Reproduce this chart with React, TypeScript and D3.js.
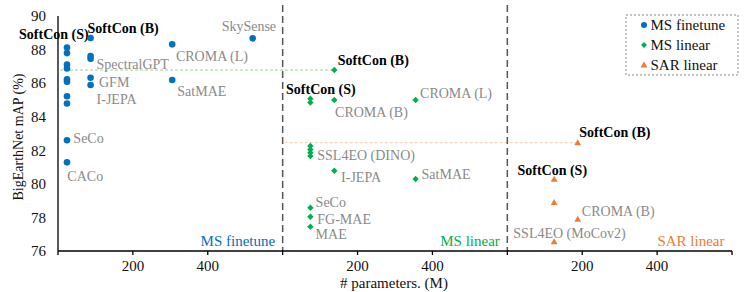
import React from "react";
import * as d3 from "d3";

// ---- data (params in M, within each panel; values = BigEarthNet mAP %) ----
const panels = ["MS finetune", "MS linear", "SAR linear"];

const msFinetuneParams = [24, 24, 24, 24, 24, 24, 24, 24, 24, 24, 87, 87, 87, 87, 87, 305, 305, 520];
const msFinetuneValues = [88.12, 87.79, 87.11, 86.87, 86.23, 86.09, 85.22, 84.79, 82.6, 81.28, 88.69, 87.62, 87.46, 86.32, 85.89, 88.31, 86.19, 88.67];

const msLinearParams = [138, 74, 74, 138, 355, 74, 74, 74, 74, 138, 355, 74, 74, 74];
const msLinearValues = [86.78, 85.07, 84.85, 85.0, 85.0, 82.26, 82.05, 81.86, 81.66, 80.78, 80.29, 78.58, 78.04, 77.45];

const sarLinearParams = [188, 125, 125, 188, 125];
const sarLinearValues = [82.45, 80.27, 78.88, 77.89, 76.55];

const yTicks = [76, 78, 80, 82, 84, 86, 88, 90];
const xTickLabels = [200, 400];

// annotations: panel index, text, left x (M), centre y (value), bold
const annotations: [number, string, number, number, boolean][] = [
  [0, "SoftCon (S)", -104, 88.91, true],
  [0, "SoftCon (B)", 79, 89.3, true],
  [0, "SkySense", 437, 89.4, false],
  [0, "CROMA (L)", 315, 87.63, false],
  [0, "SpectralGPT", 103, 87.12, false],
  [0, "GFM", 109.5, 86.09, false],
  [0, "SatMAE", 318.6, 85.55, false],
  [0, "I-JEPA", 103, 85.04, false],
  [0, "SeCo", 41, 82.71, false],
  [0, "CACo", 25, 80.47, false],
  [1, "SoftCon (B)", 147, 87.38, true],
  [1, "SoftCon (S)", 9, 85.63, true],
  [1, "CROMA (B)", 140, 84.26, false],
  [1, "CROMA (L)", 367, 85.43, false],
  [1, "SSL4EO (DINO)", 92.5, 81.72, false],
  [1, "I-JEPA", 156, 80.43, false],
  [1, "SatMAE", 371, 80.59, false],
  [1, "SeCo", 88, 78.9, false],
  [1, "FG-MAE", 92.5, 77.91, false],
  [1, "MAE", 88, 77.0, false],
  [2, "SoftCon (B)", 192, 83.07, true],
  [2, "SoftCon (S)", 27, 80.83, true],
  [2, "CROMA (B)", 199, 78.38, false],
  [2, "SSL4EO (MoCov2)", 16, 77.05, false],
];

const COLORS = ["#0070C0", "#00B050", "#ED7D31"];
const FONT = "'Liberation Serif', 'Times New Roman', serif";
const GRAY = "#8a8a8a";

const W = 748;
const H = 292;
const PANEL = 600;

export default function App() {
  const x = d3.scaleLinear().domain([0, PANEL * 3]).range([58, 732]);
  const y = d3.scaleLinear().domain([76, 90]).range([251, 16]);
  const px = (panel: number, m: number) => x(panel * PANEL + m);

  const diamond = (cx: number, cy: number, r = 3.2) =>
    `M${cx},${cy - r}L${cx + r},${cy}L${cx},${cy + r}L${cx - r},${cy}Z`;
  const triangle = (cx: number, cy: number) =>
    `M${cx},${cy - 3.6}L${cx + 3.4},${cy + 2.4}L${cx - 3.4},${cy + 2.4}Z`;

  const allTicks = d3.range(0, PANEL * 3 + 1, 200);

  return (
    <svg width={W} height={H} style={{ position: "absolute", left: 0, top: 0 }} fontFamily={FONT}>
      <rect width={W} height={H} fill="#fff" />

      {/* reference dotted lines */}
      <line x1={x(0) + 2} x2={px(1, msLinearParams[0])} y1={y(msLinearValues[0])} y2={y(msLinearValues[0])}
        stroke="#a9d18e" strokeWidth={1} strokeDasharray="3,2" />
      <line x1={x(PANEL) + 2} x2={px(2, sarLinearParams[0])} y1={y(sarLinearValues[0])} y2={y(sarLinearValues[0])}
        stroke="#f8cbad" strokeWidth={1} strokeDasharray="3,2" />

      {/* panel separators */}
      {[1, 2].map((p) => (
        <line key={p} x1={x(p * PANEL)} x2={x(p * PANEL)} y1={5} y2={y(76)}
          stroke="#555" strokeWidth={1.5} strokeDasharray="7,4" />
      ))}

      {/* axes */}
      <line x1={x(0)} x2={x(0)} y1={y(90)} y2={y(76)} stroke="#000" strokeWidth={1.3} />
      <line x1={x(0)} x2={x(PANEL * 3)} y1={y(76)} y2={y(76)} stroke="#000" strokeWidth={1.3} />
      {allTicks.map((t) => (
        <line key={t} x1={x(t)} x2={x(t)} y1={y(76)} y2={y(76) + 4} stroke="#000" strokeWidth={1.3} />
      ))}
      {yTicks.map((t) => (
        <text key={t} x={46} y={y(t)} dy="0.35em" textAnchor="end" fontSize={15} fill="#111">{t}</text>
      ))}
      {[0, 1, 2].map((p) =>
        xTickLabels.map((t) => (
          <text key={`${p}-${t}`} x={px(p, t)} y={266} dy="0.35em" textAnchor="middle" fontSize={15} fill="#111">{t}</text>
        ))
      )}
      <text transform={`translate(18,${137}) rotate(-90)`} textAnchor="middle" dy="0.35em" fontSize={14} fill="#111">
        BigEarthNet mAP (%)
      </text>
      <text x={394} y={282.7} dy="0.35em" textAnchor="middle" fontSize={15} fill="#111"># parameters. (M)</text>

      {/* panel names */}
      {panels.map((name, p) => (
        <text key={name} x={px(p, 580)} y={y(76.63)} dy="0.35em" textAnchor="end" fontSize={15} fill={COLORS[p]}>{name}</text>
      ))}

      {/* annotations */}
      {annotations.map(([p, t, m, v, b], i) => (
        <text key={i} x={px(p, m)} y={y(v)} dy="0.35em" fontSize={14}
          fontWeight={b ? "bold" : "normal"} fill={b ? "#000" : GRAY}>{t}</text>
      ))}

      {/* markers */}
      {msFinetuneParams.map((m, i) => (
        <circle key={`b${i}`} cx={px(0, m)} cy={y(msFinetuneValues[i])} r={3.3} fill={COLORS[0]} />
      ))}
      {msLinearParams.map((m, i) => (
        <path key={`g${i}`} d={diamond(px(1, m), y(msLinearValues[i]))} fill={COLORS[1]} />
      ))}
      {sarLinearParams.map((m, i) => (
        <path key={`o${i}`} d={triangle(px(2, m), y(sarLinearValues[i]))} fill={COLORS[2]} />
      ))}

      {/* legend */}
      <rect x={626} y={15} width={112} height={60} fill="#fff" stroke="#888" strokeDasharray="2,2" />
      {panels.map((name, p) => {
        const cy = 25 + p * 20;
        return (
          <g key={name}>
            {p === 0 && <circle cx={644} cy={cy} r={3} fill={COLORS[0]} />}
            {p === 1 && <path d={diamond(644, cy, 3)} fill={COLORS[1]} />}
            {p === 2 && <path d={triangle(644, cy)} fill={COLORS[2]} />}
            <text x={650.5} y={cy} dy="0.35em" fontSize={15} fill="#111">{name}</text>
          </g>
        );
      })}
    </svg>
  );
}
